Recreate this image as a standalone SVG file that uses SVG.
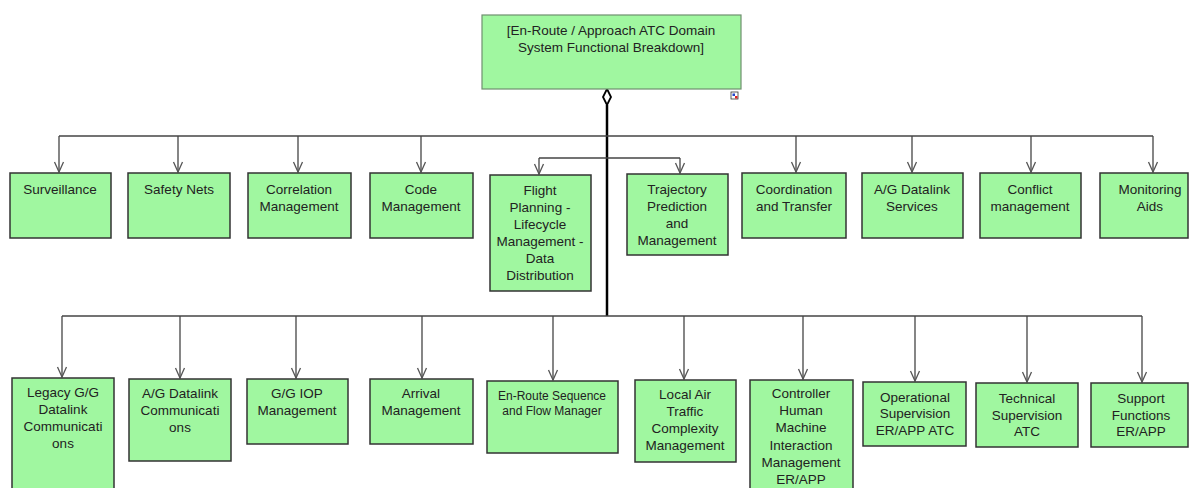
<svg xmlns="http://www.w3.org/2000/svg" width="1189" height="488" viewBox="0 0 1189 488">
<defs>
<style>
.n{fill:#a0f7a0;stroke:#333;stroke-width:1.5}
.t{font-family:"Liberation Sans",Arial,sans-serif;font-size:13.5px;fill:#222;text-anchor:middle}
.s{font-size:12px}
.c{fill:none;stroke:#444;stroke-width:1.3}
.k{fill:none;stroke:#000;stroke-width:2.5}
</style>
<marker id="a" markerWidth="12" markerHeight="12" refX="11" refY="6" orient="auto" markerUnits="userSpaceOnUse" viewBox="0 0 12 12">
<path d="M1,1.5 L11,6 L1,10.5" fill="none" stroke="#555" stroke-width="1.3"/>
</marker>
</defs>
<rect width="1189" height="488" fill="#fff"/>
<g id="connectors">
<path class="k" d="M607,105 V316"/>
<path class="c" d="M59,136 H1153" stroke-width="1.8"/>
<path class="c" d="M62,316 H1142" stroke-width="1.8"/>
<path class="c" d="M539,158 H680"/>
<path class="c" marker-end="url(#a)" d="M59,136 V172"/>
<path class="c" marker-end="url(#a)" d="M178,136 V172"/>
<path class="c" marker-end="url(#a)" d="M298,136 V172"/>
<path class="c" marker-end="url(#a)" d="M421,136 V172"/>
<path class="c" marker-end="url(#a)" d="M539,158 V174"/>
<path class="c" marker-end="url(#a)" d="M680,158 V173"/>
<path class="c" marker-end="url(#a)" d="M796,136 V172"/>
<path class="c" marker-end="url(#a)" d="M912,136 V172"/>
<path class="c" marker-end="url(#a)" d="M1031,136 V172"/>
<path class="c" marker-end="url(#a)" d="M1153,136 V172"/>
<path class="c" marker-end="url(#a)" d="M62,316 V377"/>
<path class="c" marker-end="url(#a)" d="M180,316 V378"/>
<path class="c" marker-end="url(#a)" d="M296,316 V378"/>
<path class="c" marker-end="url(#a)" d="M422,316 V378"/>
<path class="c" marker-end="url(#a)" d="M553,316 V380"/>
<path class="c" marker-end="url(#a)" d="M684,316 V379"/>
<path class="c" marker-end="url(#a)" d="M803,316 V379"/>
<path class="c" marker-end="url(#a)" d="M915,316 V381"/>
<path class="c" marker-end="url(#a)" d="M1027,316 V382"/>
<path class="c" marker-end="url(#a)" d="M1142,316 V382"/>
<path d="M607,89 L611,97 L607,105 L603,97 Z" fill="#fff" stroke="#000" stroke-width="1.8"/>
</g>
<g id="root">
<rect x="482" y="15" width="259" height="74" fill="#a0f7a0" stroke="#6f8f6f" stroke-width="1.2"/>
<text class="t" x="611" y="35">[En-Route / Approach ATC Domain</text>
<text class="t" x="611" y="52">System Functional Breakdown]</text>
<rect x="731" y="92" width="7" height="7" fill="#fff" stroke="#333" stroke-width="0.8"/>
<rect x="732.5" y="93.5" width="2.5" height="2.5" fill="#2244cc"/>
<rect x="735" y="96" width="2.5" height="2.5" fill="#dd2222"/>
</g>
<g id="surveillance"><rect class="n" x="10" y="173" width="101" height="65"/><text class="t" x="60" y="194">Surveillance</text></g>
<g id="safety-nets"><rect class="n" x="128" y="173" width="102" height="65"/><text class="t" x="179" y="194">Safety Nets</text></g>
<g id="correlation"><rect class="n" x="248" y="173" width="103" height="65"/><text class="t" x="299" y="194">Correlation</text><text class="t" x="299" y="211">Management</text></g>
<g id="code"><rect class="n" x="370" y="173" width="103" height="65"/><text class="t" x="421" y="194">Code</text><text class="t" x="421" y="211">Management</text></g>
<g id="flight-planning"><rect class="n" x="490" y="175" width="101" height="116"/>
<text class="t" x="540" y="195">Flight</text><text class="t" x="540" y="212">Planning -</text><text class="t" x="540" y="229">Lifecycle</text><text class="t" x="540" y="246">Management -</text><text class="t" x="540" y="263">Data</text><text class="t" x="540" y="280">Distribution</text></g>
<g id="trajectory"><rect class="n" x="627" y="174" width="101" height="81"/>
<text class="t" x="677" y="194">Trajectory</text><text class="t" x="677" y="211">Prediction</text><text class="t" x="677" y="228">and</text><text class="t" x="677" y="245">Management</text></g>
<g id="coordination"><rect class="n" x="742" y="173" width="104" height="65"/><text class="t" x="794" y="194">Coordination</text><text class="t" x="794" y="211">and Transfer</text></g>
<g id="ag-datalink-services"><rect class="n" x="862" y="173" width="101" height="65"/><text class="t" x="912" y="194">A/G Datalink</text><text class="t" x="912" y="211">Services</text></g>
<g id="conflict"><rect class="n" x="980" y="173" width="101" height="65"/><text class="t" x="1030" y="194">Conflict</text><text class="t" x="1030" y="211">management</text></g>
<g id="monitoring"><rect class="n" x="1100" y="173" width="88" height="65"/><text class="t" x="1150" y="194">Monitoring</text><text class="t" x="1150" y="211">Aids</text></g>
<g id="legacy-gg"><rect class="n" x="12" y="378" width="102" height="115"/>
<text class="t" x="63" y="397">Legacy G/G</text><text class="t" x="63" y="414">Datalink</text><text class="t" x="63" y="431">Communicati</text><text class="t" x="63" y="448">ons</text></g>
<g id="ag-datalink-comm"><rect class="n" x="129" y="379" width="102" height="82"/>
<text class="t" x="180" y="398">A/G Datalink</text><text class="t" x="180" y="415">Communicati</text><text class="t" x="180" y="432">ons</text></g>
<g id="gg-iop"><rect class="n" x="247" y="379" width="101" height="65"/><text class="t" x="297" y="398">G/G IOP</text><text class="t" x="297" y="415">Management</text></g>
<g id="arrival"><rect class="n" x="370" y="379" width="103" height="65"/><text class="t" x="421" y="398">Arrival</text><text class="t" x="421" y="415">Management</text></g>
<g id="enroute-seq"><rect class="n" x="487" y="381" width="131" height="72"/><text class="t s" x="552" y="400">En-Route Sequence</text><text class="t s" x="552" y="415">and Flow Manager</text></g>
<g id="local-air"><rect class="n" x="635" y="380" width="101" height="82"/>
<text class="t" x="685" y="399">Local Air</text><text class="t" x="685" y="416">Traffic</text><text class="t" x="685" y="433">Complexity</text><text class="t" x="685" y="450">Management</text></g>
<g id="controller-hmi"><rect class="n" x="750" y="380" width="103" height="115"/>
<text class="t" x="801" y="398">Controller</text><text class="t" x="801" y="415">Human</text><text class="t" x="801" y="432">Machine</text><text class="t" x="801" y="450">Interaction</text><text class="t" x="801" y="467">Management</text><text class="t" x="801" y="484">ER/APP</text></g>
<g id="operational-sup"><rect class="n" x="863" y="382" width="103" height="64"/>
<text class="t" x="915" y="402">Operational</text><text class="t" x="915" y="418">Supervision</text><text class="t" x="915" y="435">ER/APP ATC</text></g>
<g id="technical-sup"><rect class="n" x="976" y="383" width="102" height="64"/>
<text class="t" x="1027" y="403">Technical</text><text class="t" x="1027" y="420">Supervision</text><text class="t" x="1027" y="436">ATC</text></g>
<g id="support"><rect class="n" x="1091" y="383" width="97" height="64"/>
<text class="t" x="1141" y="403">Support</text><text class="t" x="1141" y="420">Functions</text><text class="t" x="1141" y="436">ER/APP</text></g>
</svg>
